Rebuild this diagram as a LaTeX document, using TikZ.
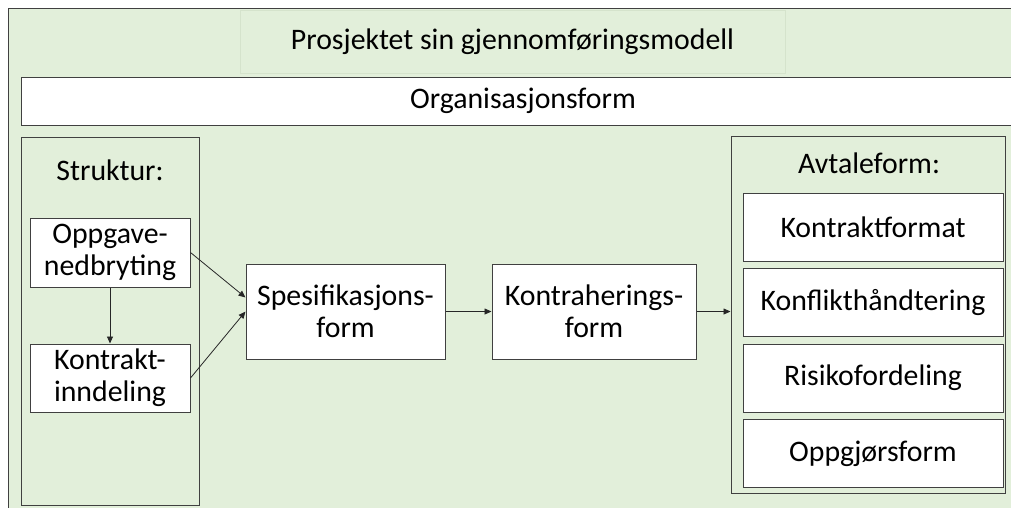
\documentclass[tikz,border=0pt]{standalone}
\usepackage{fontspec}
\setmainfont{Carlito}
\usetikzlibrary{arrows.meta}
\definecolor{panelgreen}{HTML}{E2EFDA}
\definecolor{titleedge}{HTML}{D5E3CC}
\definecolor{edgegray}{HTML}{404040}
\tikzset{
  box/.style={draw=edgegray,line width=1pt,fill=white,align=center,inner sep=0pt},
  panel/.style={draw=edgegray,line width=1pt,fill=panelgreen,inner sep=0pt},
  flow/.style={-{Triangle[length=7pt,width=6pt]},line width=0.8pt,draw=black!85}
}
\begin{document}
\begin{tikzpicture}[x=1pt,y=-1pt,every node/.style={font=\fontsize{29.8}{32}\selectfont}]

%Frame of the whole model
\useasboundingbox (0,0) rectangle (1011,507);
\clip (0,0) rectangle (1011,507);
\fill[white] (0,0) rectangle (1011,507);
\draw[panel] (8,8) rectangle (1040,540);
\node[draw=titleedge,fill=panelgreen,minimum width=545,minimum height=63,inner sep=0pt] (title) at (512.5,41.5) {Prosjektet sin gjennomføringsmodell};
\node[box,minimum width=1004,minimum height=48] (org) at (523,101) {Organisasjonsform};

%Left panel
\node[panel,minimum width=178,minimum height=368] (struktur) at (110,321) {};
\node (strukturtxt) at (110,170) {Struktur:};
\node[box,minimum width=160,minimum height=69] (oppg) at (110,252.5) {Oppgave-\\nedbryting};
\node[box,minimum width=160,minimum height=68] (kontr) at (110,378) {Kontrakt-\\inndeling};

%Middle boxes
\node[box,minimum width=199,minimum height=95] (spes) at (345.5,311.5) {Spesifikasjons-\\form};
\node[box,minimum width=204,minimum height=95] (kontrh) at (594,311.5) {Kontraherings-\\form};

%Right panel
\node[panel,minimum width=274,minimum height=357] (avtale) at (868,314.5) {};
\node (avtaletxt) at (869,163) {Avtaleform:};
\foreach \i/\t in {0/Kontraktformat,1/Konflikthåndtering,2/Risikofordeling,3/Oppgjørsform}
  \node[box,minimum width=260,minimum height=68] (avt\i) at (873,227+75.5*\i) {\t};

%Arrows
\draw[flow] (oppg.south) -- (kontr.north);
\draw[flow] (oppg.east) -- ([yshift=14pt]spes.west);
\draw[flow] (kontr.east) -- (spes.west);
\draw[flow] (spes.east) -- (kontrh.west);
\draw[flow] (kontrh.east) -- (kontrh.east -| avtale.west);

\end{tikzpicture}
\end{document}
